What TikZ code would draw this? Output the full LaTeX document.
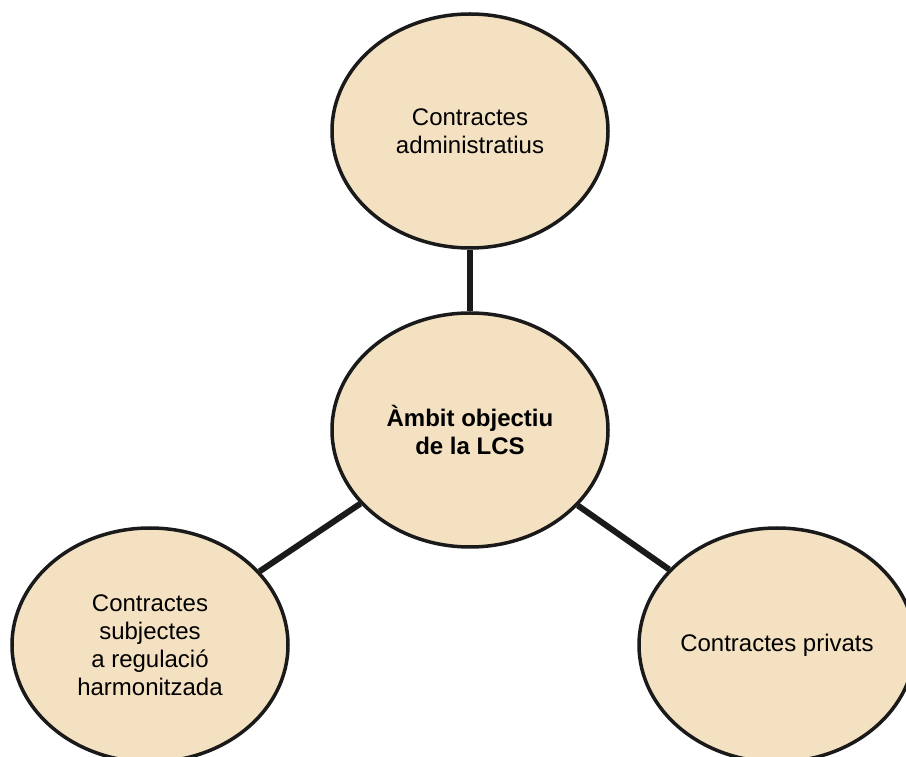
\documentclass[tikz,border=0pt]{standalone}
\usepackage{fontspec}
\setmainfont{Liberation Sans}
\usetikzlibrary{shapes.geometric}
\definecolor{bubblefill}{HTML}{F4E1C2}
\definecolor{bubbleline}{HTML}{1A1A1A}
\begin{document}
\begin{tikzpicture}[
    x=1pt, y=1pt,
    bubble/.style = {ellipse, draw=bubbleline, fill=bubblefill, line width=3.5pt,
        minimum width=276pt, minimum height=234pt, inner sep=0pt,
        align=center, font=\fontsize{24}{28}\selectfont},
    link/.style = {draw=bubbleline, line width=6pt}
     ]
  \clip (0,0) rectangle (906,756);
  \useasboundingbox (0,0) rectangle (906,756);
  \node[bubble] (ambit) at (470,326) {\textbf{Àmbit objectiu}\\\textbf{de la LCS}};
  \node[bubble] (admin) at (470,625) {Contractes\\administratius};
  \node[bubble] (harmo) at (150,111) {Contractes\\subjectes\\a regulació\\harmonitzada};
  \node[bubble] (priv) at (777,111) {Contractes privats};
  \draw[link] (ambit) -- (admin);
  \draw[link] (ambit) -- (harmo);
  \draw[link] (ambit) -- (priv);
\end{tikzpicture}
\end{document}
